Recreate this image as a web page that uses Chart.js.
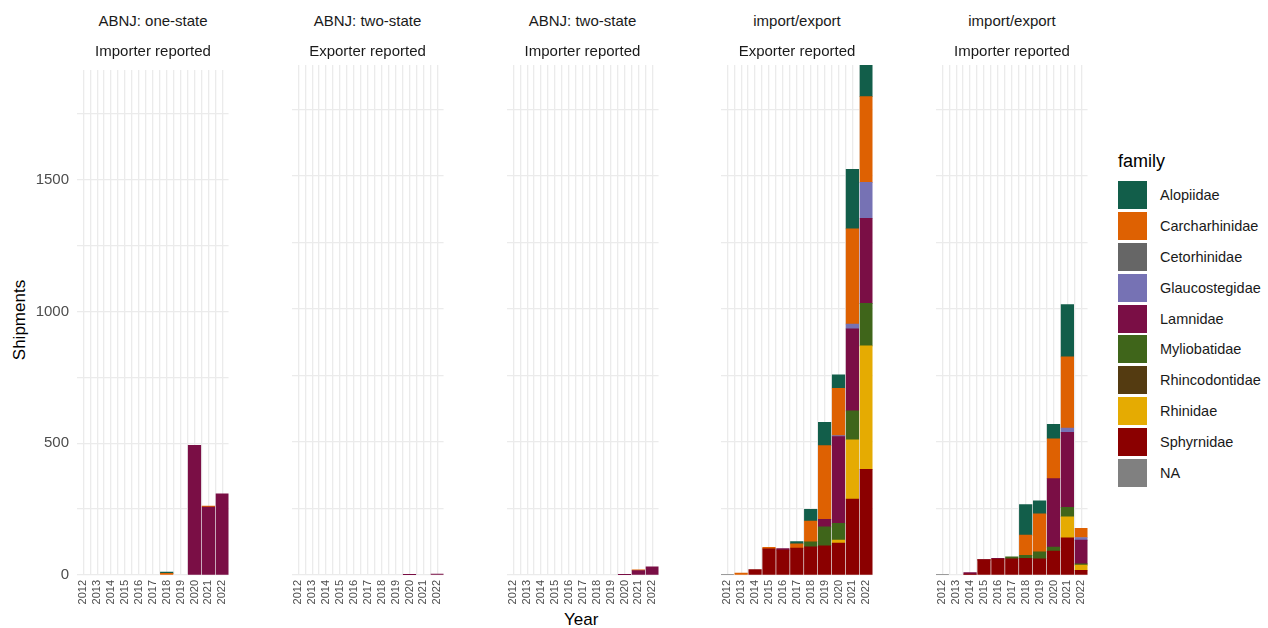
<!DOCTYPE html>
<html>
<head>
<meta charset="utf-8">
<script src="https://cdn.jsdelivr.net/npm/chart.js@4.4.1/dist/chart.umd.min.js"></script>
<style>
  html, body { margin: 0; padding: 0; background: #ffffff; }
  body { width: 1268px; height: 628px; position: relative; overflow: hidden;
         font-family: "Liberation Sans", Arial, sans-serif; color: #1a1a1a; }
  canvas { position: absolute; }
  .strip { position: absolute; width: 200px; text-align: center; font-size: 15px; color: #1a1a1a; line-height: 18px; }
  .axis-title { position: absolute; font-size: 17px; color: #000; white-space: nowrap; }
  #legend { position: absolute; left: 1118px; top: 148px; }
  #legend .title { font-size: 18px; color: #000; height: 32px; line-height: 26px; }
  #legend .item { height: 30.8px; display: flex; align-items: center; }
  #legend .key { width: 29px; height: 28px; margin-right: 13px; }
  #legend .lab { font-size: 14.5px; color: #1a1a1a; }
</style>
</head>
<body>
<div class="axis-title" style="left:-25px; top:310px; transform: rotate(-90deg); transform-origin: 50% 50%; width: 90px; text-align:center;">Shipments</div>
<div class="axis-title" style="left:564px; top:610px;">Year</div>
<div id="legend"></div>

<script>
// Years on the x axis
const years = [2012, 2013, 2014, 2015, 2016, 2017, 2018, 2019, 2020, 2021, 2022];

// Families in legend order, with their fill colours
const families = ["Alopiidae", "Carcharhinidae", "Cetorhinidae", "Glaucostegidae", "Lamnidae",
                  "Myliobatidae", "Rhincodontidae", "Rhinidae", "Sphyrnidae", "NA"];
const familyColors = ["#125E4A", "#DE6102", "#666666", "#7672B4", "#7A0E45",
                      "#3F651A", "#543B11", "#E5AB02", "#8B0000", "#808080"];

// Panel strip titles (two lines each)
const panelTop = ["ABNJ: one-state", "ABNJ: two-state", "ABNJ: two-state", "import/export", "import/export"];
const panelSub = ["Importer reported", "Exporter reported", "Importer reported", "Exporter reported", "Importer reported"];

// Shipments per year, ABNJ: one-state / Importer reported
const p1Alopiidae      = [0, 0, 0, 0, 0, 0, 5, 0, 0, 0, 0];
const p1Carcharhinidae = [0, 0, 0, 0, 0, 0, 6, 0, 0, 4, 0];
const p1Lamnidae       = [0, 0, 0, 0, 0, 0, 0, 0, 492, 258, 308];

// ABNJ: two-state / Exporter reported
const p2Lamnidae       = [0, 0, 0, 0, 0, 0, 0, 0, 1, 0, 3];

// ABNJ: two-state / Importer reported
const p3Carcharhinidae = [0, 0, 0, 0, 0, 0, 0, 0, 0, 2, 0];
const p3Lamnidae       = [0, 0, 0, 0, 0, 0, 0, 0, 1, 17, 31];

// import/export / Exporter reported
const p4Alopiidae      = [0, 0, 0, 0, 0, 9, 44, 88, 50, 224, 119];
const p4Carcharhinidae = [0, 7, 0, 6, 0, 16, 78, 277, 178, 358, 322];
const p4Glaucostegidae = [0, 0, 0, 0, 0, 0, 0, 0, 4, 18, 135];
const p4Lamnidae       = [0, 0, 0, 0, 5, 0, 0, 28, 326, 308, 320];
const p4Myliobatidae   = [0, 0, 0, 0, 0, 0, 19, 71, 63, 109, 160];
const p4Rhinidae       = [0, 0, 0, 0, 0, 0, 0, 0, 11, 223, 464];
const p4Sphyrnidae     = [0, 0, 20, 98, 94, 101, 106, 110, 120, 285, 397];
const p4NA             = [2, 0, 0, 0, 0, 0, 0, 0, 0, 0, 0];

// import/export / Importer reported
const p5Alopiidae      = [0, 0, 0, 0, 0, 0, 115, 49, 54, 196, 0];
const p5Carcharhinidae = [0, 0, 0, 1, 0, 0, 76, 143, 150, 268, 34];
const p5Glaucostegidae = [0, 0, 0, 0, 0, 0, 0, 0, 0, 16, 10];
const p5Lamnidae       = [0, 0, 6, 2, 3, 0, 0, 0, 257, 282, 89];
const p5Myliobatidae   = [0, 0, 0, 0, 0, 7, 11, 26, 15, 35, 5];
const p5Rhinidae       = [0, 0, 0, 0, 0, 0, 0, 0, 0, 79, 19];
const p5Sphyrnidae     = [0, 0, 3, 56, 60, 61, 63, 61, 90, 140, 18];
const p5NA             = [2, 0, 0, 0, 0, 0, 0, 0, 0, 0, 0];

// Y axis tick values
const yTicks = [0, 250, 500, 750, 1000, 1250, 1500, 1750];

const panelSeries = [
  { Alopiidae: p1Alopiidae, Carcharhinidae: p1Carcharhinidae, Lamnidae: p1Lamnidae },
  { Lamnidae: p2Lamnidae },
  { Carcharhinidae: p3Carcharhinidae, Lamnidae: p3Lamnidae },
  { Alopiidae: p4Alopiidae, Carcharhinidae: p4Carcharhinidae, Glaucostegidae: p4Glaucostegidae,
    Lamnidae: p4Lamnidae, Myliobatidae: p4Myliobatidae, Rhinidae: p4Rhinidae,
    Sphyrnidae: p4Sphyrnidae, NA: p4NA },
  { Alopiidae: p5Alopiidae, Carcharhinidae: p5Carcharhinidae, Glaucostegidae: p5Glaucostegidae,
    Lamnidae: p5Lamnidae, Myliobatidae: p5Myliobatidae, Rhinidae: p5Rhinidae,
    Sphyrnidae: p5Sphyrnidae, NA: p5NA }
];

// Shared y range: stacked totals, no expansion
let yMax = 0;
panelSeries.forEach(ps => {
  years.forEach((_, i) => {
    let s = 0;
    Object.values(ps).forEach(arr => { s += arr[i]; });
    yMax = Math.max(yMax, s);
  });
});

// Geometry of the facet panels
const panelLefts = [77, 291.5, 506.5, 721, 936];
const panelWidth = 152;
const plotTop = 65, plotBottom = 575;
const padTop = 12, xAxisHeight = 45;
const xPadUnits = 0.45;                       // panel reaches the outer bar edges
const xSpan = years[years.length - 1] - years[0] + 2 * xPadUnits;
const barPx = 0.9 * panelWidth / xSpan;       // bars fill 90% of one year

// Half-year grid positions, labels on whole years
const xTickValues = [];
for (let v = years[0]; v <= years[years.length - 1] + 1e-9; v += 0.5) xTickValues.push(v);

function buildPanel(idx) {
  const first = idx === 0;
  const yAxisW = first ? 47 : 0;
  const padL = first ? 0 : 12, padR = 12;
  const left = panelLefts[idx] - yAxisW - padL;
  const width = yAxisW + padL + panelWidth + padR;
  const height = padTop + (plotBottom - plotTop) + xAxisHeight;

  const cv = document.createElement('canvas');
  cv.width = width; cv.height = height;
  cv.style.left = left + 'px'; cv.style.top = (plotTop - padTop) + 'px';
  cv.style.width = width + 'px'; cv.style.height = height + 'px';
  document.body.appendChild(cv);

  // strip titles
  const cx = panelLefts[idx] + panelWidth / 2;
  const s1 = document.createElement('div');
  s1.className = 'strip'; s1.textContent = panelTop[idx];
  s1.style.left = (cx - 100) + 'px'; s1.style.top = '12px';
  const s2 = document.createElement('div');
  s2.className = 'strip'; s2.textContent = panelSub[idx];
  s2.style.left = (cx - 100) + 'px'; s2.style.top = '42px';
  document.body.appendChild(s1); document.body.appendChild(s2);

  // stacked bottom-to-top in reverse legend order
  const ps = panelSeries[idx];
  const datasets = [];
  for (let f = families.length - 1; f >= 0; f--) {
    const arr = ps[families[f]];
    if (!arr) continue;
    datasets.push({
      label: families[f],
      data: years.map((y, i) => ({ x: y, y: arr[i] > 0 ? arr[i] : null })),
      backgroundColor: familyColors[f],
      borderWidth: 0,
      barThickness: barPx,
      stack: 's'
    });
  }

  new Chart(cv, {
    type: 'bar',
    data: { datasets },
    options: {
      responsive: false,
      animation: false,
      devicePixelRatio: 1,
      layout: { padding: { top: padTop, left: padL, right: padR, bottom: 0 } },
      plugins: { legend: { display: false }, tooltip: { enabled: false } },
      scales: {
        x: {
          type: 'linear',
          stacked: true,
          offset: false,
          min: years[0] - xPadUnits,
          max: years[years.length - 1] + xPadUnits,
          afterBuildTicks: (sc) => { sc.ticks = xTickValues.map(v => ({ value: v })); },
          afterFit: (sc) => { sc.height = xAxisHeight; },
          grid: { offset: false, color: '#EBEBEB', lineWidth: 1.3, drawTicks: false },
          border: { display: false },
          ticks: {
            autoSkip: false, minRotation: 90, maxRotation: 90, padding: 5,
            color: '#4D4D4D', font: { family: 'Liberation Sans', size: 11 },
            callback: (v) => (Math.abs(v - Math.round(v)) < 1e-6 ? String(Math.round(v)) : '')
          }
        },
        y: {
          type: 'linear',
          stacked: true,
          min: 0,
          max: yMax,
          afterBuildTicks: (sc) => { sc.ticks = yTicks.map(v => ({ value: v })); },
          afterFit: (sc) => { sc.width = yAxisW; },
          grid: { color: '#EBEBEB', lineWidth: 1.3, drawTicks: false },
          border: { display: false },
          ticks: {
            display: first, padding: 8,
            color: '#4D4D4D', font: { family: 'Liberation Sans', size: 15 },
            callback: (v) => (v % 500 === 0 ? String(v) : '')
          }
        }
      }
    }
  });
}

for (let i = 0; i < 5; i++) buildPanel(i);

// Legend
const lg = document.getElementById('legend');
const t = document.createElement('div'); t.className = 'title'; t.textContent = 'family';
lg.appendChild(t);
families.forEach((f, i) => {
  const it = document.createElement('div'); it.className = 'item';
  const k = document.createElement('div'); k.className = 'key'; k.style.background = familyColors[i];
  const l = document.createElement('div'); l.className = 'lab'; l.textContent = f;
  it.appendChild(k); it.appendChild(l); lg.appendChild(it);
});
</script>
</body>
</html>
